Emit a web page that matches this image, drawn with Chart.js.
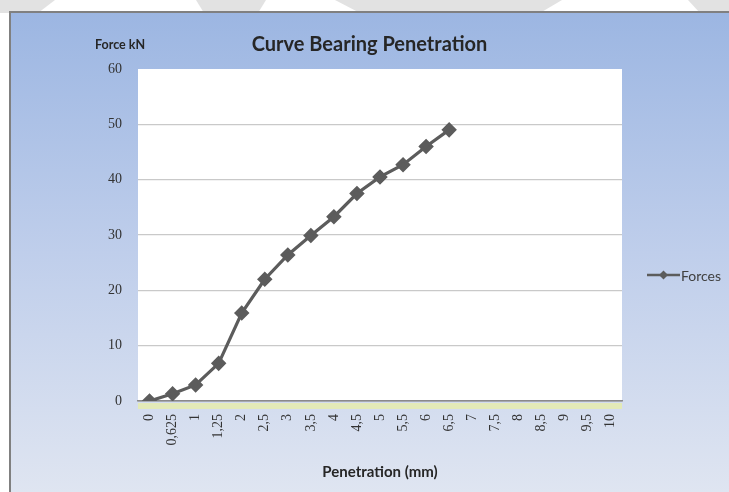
<!DOCTYPE html>
<html>
<head>
<meta charset="utf-8">
<script src="https://cdn.jsdelivr.net/npm/chart.js@4.4.1/dist/chart.umd.min.js"></script>
<style>
html,body{margin:0;padding:0;background:#fff;}
canvas{display:block;}
</style>
</head>
<body>
<canvas id="c" width="729" height="492"></canvas>
<script>
// ---- data ----
const penetrationLabels = ['0','0,625','1','1,25','2','2,5','3','3,5','4','4,5','5','5,5','6','6,5','7','7,5','8','8,5','9','9,5','10'];
const forces = [0, 1.3, 2.9, 6.8, 15.9, 22.0, 26.4, 29.9, 33.3, 37.5, 40.5, 42.7, 46.0, 49.0];
const seriesName = 'Forces';
const chartTitle = 'Curve Bearing Penetration';
const yAxisTitle = 'Force kN';
const xAxisTitle = 'Penetration (mm)';
const yTicks = [0, 10, 20, 30, 40, 50, 60];

const LINE = '#5c5c5c';

const framePlugin = {
  id: 'frame',
  beforeDraw(chart) {
    const ctx = chart.ctx, W = chart.width, H = chart.height;
    ctx.save();
    ctx.fillStyle = '#ffffff';
    ctx.fillRect(0, 0, W, H);
    // faint watermark shapes above the frame
    ctx.fillStyle = '#e2e2e2';
    const polys = [
      [[0,0],[55,0],[38,13],[0,13]],
      [[196,0],[266,0],[258,13],[204,13]],
      [[335,0],[562,0],[540,13],[360,13]],
      [[688,0],[729,0],[729,13],[700,13]]
    ];
    polys.forEach(p => { ctx.beginPath(); p.forEach((pt,i)=> i?ctx.lineTo(pt[0],pt[1]):ctx.moveTo(pt[0],pt[1])); ctx.closePath(); ctx.fill(); });
    // gradient frame
    const g = ctx.createLinearGradient(0, 12, 0, H);
    g.addColorStop(0, 'rgb(156,182,226)');
    g.addColorStop(0.5, 'rgb(191,206,235)');
    g.addColorStop(1, 'rgb(223,229,241)');
    ctx.fillStyle = g;
    ctx.fillRect(10, 12, W - 10, H - 12);
    ctx.strokeStyle = '#808080';
    ctx.lineWidth = 2;
    ctx.beginPath();
    ctx.moveTo(10, H); ctx.lineTo(10, 12); ctx.lineTo(W, 12);
    ctx.stroke();
    // plot area
    const a = chart.chartArea;
    ctx.fillStyle = '#ffffff';
    ctx.fillRect(a.left, a.top, a.right - a.left, a.bottom - a.top);
    // floor band under the axis
    ctx.fillStyle = '#e3eab8';
    ctx.fillRect(a.left, a.bottom + 2, a.right - a.left, 6);
    ctx.restore();
  },
  afterDraw(chart) {
    const ctx = chart.ctx;
    const ds = chart.data.datasets[0];
    ctx.save();
    // y-axis title placed horizontally at top-left
    ctx.fillStyle = '#262626';
    ctx.font = 'bold 12.5px Lato';
    ctx.textBaseline = 'middle';
    ctx.textAlign = 'left';
    ctx.fillText(yAxisTitle, 95, 45);
    // legend
    const ly = 275;
    ctx.strokeStyle = ds.borderColor;
    ctx.lineWidth = 2.5;
    ctx.beginPath(); ctx.moveTo(647, ly); ctx.lineTo(680, ly); ctx.stroke();
    ctx.fillStyle = ds.pointBackgroundColor;
    const r = 4.5, cx = 663.5;
    ctx.beginPath(); ctx.moveTo(cx, ly - r); ctx.lineTo(cx + r, ly); ctx.lineTo(cx, ly + r); ctx.lineTo(cx - r, ly); ctx.closePath(); ctx.fill();
    ctx.fillStyle = '#404040';
    ctx.font = '14px Lato';
    ctx.fillText(ds.label, 681, ly + 1);
    ctx.restore();
  }
};

new Chart(document.getElementById('c'), {
  type: 'line',
  data: {
    labels: penetrationLabels,
    datasets: [{
      label: seriesName,
      data: forces,
      borderColor: LINE,
      backgroundColor: LINE,
      pointBackgroundColor: LINE,
      pointBorderColor: LINE,
      borderWidth: 3.2,
      pointStyle: 'rectRot',
      pointRadius: 5.5,
      tension: 0,
      yAxisID: 'y'
    }]
  },
  options: {
    responsive: false,
    animation: false,
    layout: { padding: { left: 10, top: 0, right: 0, bottom: 0 } },
    plugins: {
      legend: { display: false },
      tooltip: { enabled: false },
      title: {
        display: true,
        text: chartTitle,
        color: '#262626',
        font: { family: 'Lato', size: 20, weight: 'bold', lineHeight: 1.2 },
        padding: { top: 33, bottom: 12 }
      }
    },
    scales: {
      x: {
        type: 'category',
        offset: true,
        grid: { display: false, drawTicks: false },
        border: { display: true, color: '#8a8a8a', width: 1.5 },
        ticks: {
          autoSkip: false, maxRotation: 90, minRotation: 90, padding: 13,
          color: '#333333',
          font: { family: 'Liberation Serif', size: 14 }
        },
        title: {
          display: true, text: xAxisTitle, color: '#262626',
          font: { family: 'Lato', size: 15, weight: 'bold', lineHeight: 1.2 },
          padding: { top: 0, bottom: 11 }
        },
        afterFit(s) { s.height = 91; }
      },
      y: {
        type: 'linear', position: 'left', min: 0, max: 60,
        afterBuildTicks(s) { s.ticks = yTicks.map(v => ({ value: v })); },
        grid: {
          drawTicks: false,
          lineWidth: 1.3,
          color: c => c.tick && c.tick.value === 60 ? 'rgba(0,0,0,0)' : (c.tick && c.tick.value === 0 ? '#8a8a8a' : '#c9c9c9')
        },
        border: { display: false },
        ticks: {
          padding: 16, color: '#333333',
          font: { family: 'Liberation Serif', size: 14 }
        },
        afterFit(s) { s.width = 128; }
      },
      yRight: {
        type: 'linear', position: 'right', min: 0, max: 1,
        display: true,
        grid: { display: false, drawTicks: false },
        border: { display: false },
        ticks: { display: false },
        afterFit(s) { s.width = 107; }
      }
    }
  },
  plugins: [framePlugin]
});
</script>
</body>
</html>
